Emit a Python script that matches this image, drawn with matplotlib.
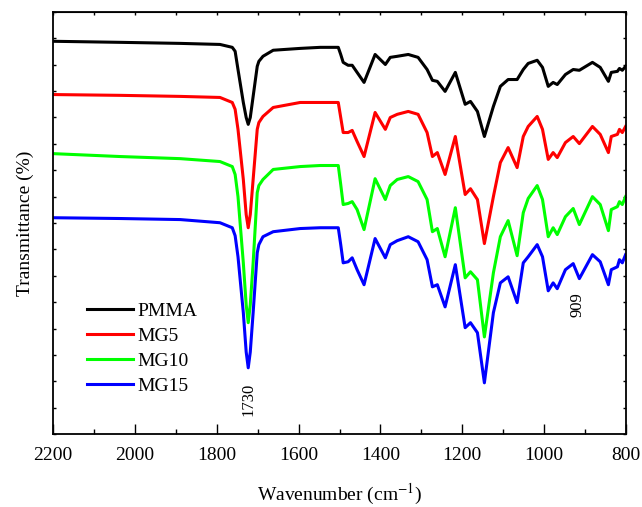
import matplotlib
matplotlib.use("Agg")
import matplotlib.pyplot as plt
from matplotlib.ticker import MultipleLocator, NullFormatter

plt.rcParams['font.family'] = ['Liberation Serif', 'DejaVu Serif']
plt.rcParams['mathtext.fontset'] = 'stix'

# wavenumber grid (cm-1)
wavenumber = [2200, 2036, 1889, 1792, 1762, 1755, 1748, 1735, 1728, 1723, 1718, 1711, 1701,
              1697, 1687, 1662, 1596, 1547, 1503, 1497, 1491, 1479, 1469, 1457, 1440, 1413,
              1388, 1376, 1359, 1332, 1308, 1286, 1273, 1261, 1242, 1217, 1193, 1180, 1163,
              1146, 1124, 1107, 1088, 1066, 1051, 1039, 1017, 1004, 990, 978, 968, 948, 929,
              914, 882, 863, 843, 836, 821, 816, 809, 801]

# offset transmittance, arbitrary units
pmma = [14.89, 14.85, 14.81, 14.77, 14.66, 14.51, 13.82, 12.57, 12.00, 11.74, 12.00, 12.80, 13.94,
        14.13, 14.32, 14.55, 14.62, 14.66, 14.66, 14.39, 14.09, 13.98, 13.98, 13.71, 13.33, 14.39,
        14.01, 14.28, 14.32, 14.39, 14.28, 13.82, 13.41, 13.37, 12.99, 13.71, 12.50, 12.61, 12.23,
        11.28, 12.42, 13.18, 13.44, 13.44, 13.82, 14.05, 14.17, 13.90, 13.18, 13.33, 13.25, 13.63, 13.82,
        13.79, 14.09, 13.90, 13.37, 13.71, 13.75, 13.86, 13.79, 13.94]
mg5 = [12.87, 12.84, 12.80, 12.76, 12.57, 12.31, 11.55, 9.65, 8.32, 7.82, 8.32, 9.65, 11.55,
       11.81, 12.04, 12.38, 12.57, 12.57, 12.57, 12.00, 11.43, 11.43, 11.51, 11.09, 10.52, 12.19,
       11.55, 12.00, 12.12, 12.23, 12.12, 11.43, 10.52, 10.67, 9.84, 11.28, 9.08, 9.30, 8.89,
       7.22, 9.00, 10.29, 10.86, 10.10, 11.28, 11.66, 12.04, 11.55, 10.41, 10.67, 10.48, 11.05, 11.28,
       11.01, 11.66, 11.36, 10.67, 11.28, 11.36, 11.55, 11.43, 11.66]
mg10 = [10.63, 10.52, 10.44, 10.33, 10.14, 9.84, 9.00, 6.49, 4.90, 4.22, 4.90, 6.49, 9.15,
        9.42, 9.65, 10.03, 10.14, 10.18, 10.18, 9.46, 8.70, 8.74, 8.81, 8.51, 7.75, 9.68,
        8.89, 9.42, 9.65, 9.76, 9.57, 8.89, 7.67, 7.79, 6.72, 8.58, 5.92, 6.15, 5.85,
        3.68, 6.11, 7.48, 8.09, 6.76, 8.39, 8.93, 9.42, 8.89, 7.48, 7.82, 7.56, 8.24, 8.55,
        7.94, 9.00, 8.70, 7.71, 8.51, 8.62, 8.81, 8.70, 9.00]
mg15 = [8.20, 8.17, 8.13, 8.01, 7.82, 7.52, 6.72, 4.60, 3.11, 2.51, 3.11, 4.60, 6.87,
        7.18, 7.48, 7.67, 7.79, 7.82, 7.82, 7.18, 6.49, 6.53, 6.68, 6.23, 5.66, 7.41,
        6.68, 7.18, 7.33, 7.48, 7.29, 6.61, 5.58, 5.66, 4.82, 6.42, 4.03, 4.22, 3.84,
        1.94, 4.60, 5.73, 5.96, 4.98, 6.49, 6.72, 7.18, 6.72, 5.43, 5.73, 5.51, 6.23, 6.46,
        5.89, 6.80, 6.53, 5.66, 6.23, 6.34, 6.61, 6.49, 6.80]

labels = ['PMMA', 'MG5', 'MG10', 'MG15']
colors = ['#000000', '#ff0000', '#00ff00', '#0000ff']
series = [pmma, mg5, mg10, mg15]

fig = plt.figure(figsize=(6.42, 5.07), dpi=100)
ax = fig.add_axes([53 / 642, 73 / 507, 573 / 642, 422 / 507])

for y, c, lab in zip(series, colors, labels):
    ax.plot(wavenumber, y, color=c, lw=2.2, label=lab, solid_joinstyle='round')

ax.set_xlim(2200, 800)
ax.set_ylim(0, 16)
ax.xaxis.set_major_locator(MultipleLocator(200))
ax.xaxis.set_minor_locator(MultipleLocator(100))
ax.yaxis.set_major_locator(MultipleLocator(1))
ax.yaxis.set_major_formatter(NullFormatter())
ax.tick_params(axis='x', which='major', direction='in', length=7, width=1, labelsize=14, pad=9)
ax.tick_params(axis='x', which='minor', direction='in', length=3.5, width=1)
ax.tick_params(axis='y', which='major', direction='in', length=2.5, width=1, right=True)
for s in ax.spines.values():
    s.set_linewidth(1.3)

top = ax.secondary_xaxis('top')
top.xaxis.set_major_locator(MultipleLocator(100))
top.xaxis.set_major_formatter(NullFormatter())
top.tick_params(direction='in', length=2.5, width=1)

ax.set_xlabel('Wavenumber (cm$^{-1}$)', fontsize=14, labelpad=13)
ax.set_ylabel('Transmittance (%)', fontsize=14, labelpad=10)

ax.text(1723, 1.3, '1730', rotation=90, fontsize=12, ha='center', va='center')
ax.text(919, 4.9, '909', rotation=90, fontsize=12, ha='center', va='center')

ax.legend(loc='upper left', bbox_to_anchor=(0.059, 0.313), frameon=False, fontsize=14,
          handlelength=2.4, handletextpad=0.2, labelspacing=0.39, borderpad=0,
          borderaxespad=0)

fig.savefig('out.png', dpi=100)
